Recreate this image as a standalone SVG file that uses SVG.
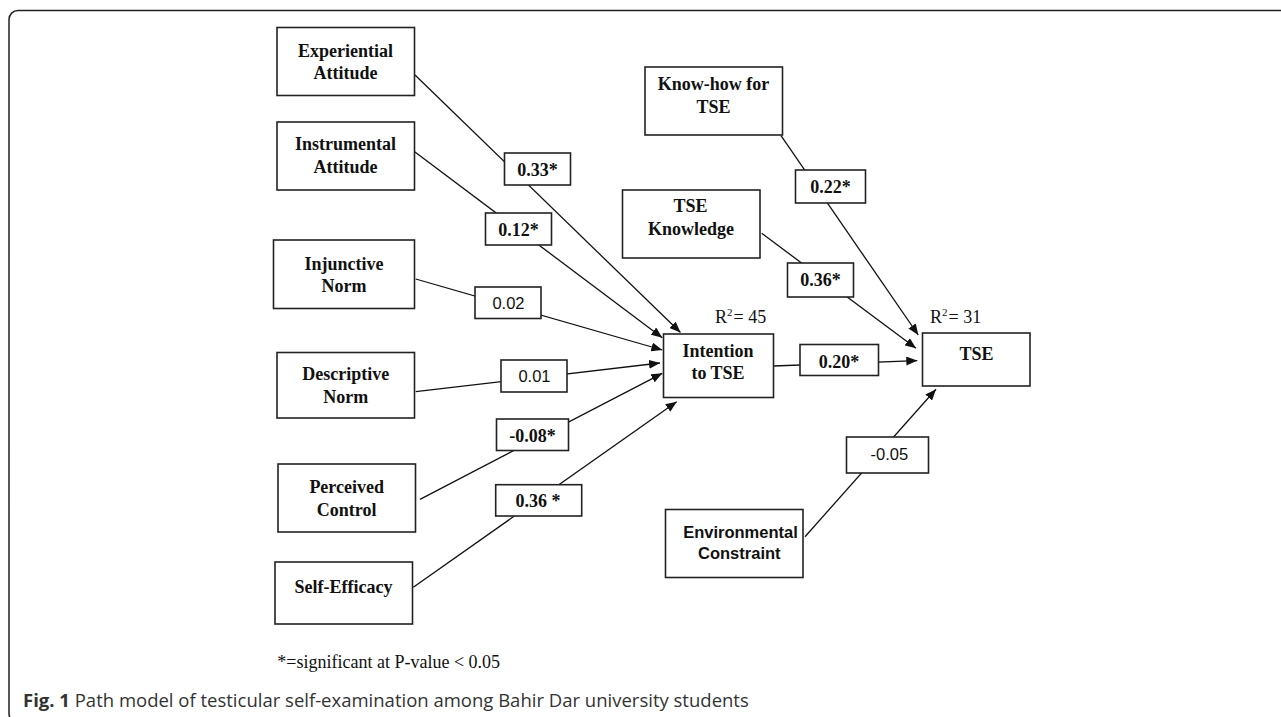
<svg xmlns="http://www.w3.org/2000/svg" width="1281" height="717" viewBox="0 0 1281 717">
<defs>
<style>
.box{fill:#fff;stroke:#222;stroke-width:1.6}
.lbl{fill:#fff;stroke:#222;stroke-width:1.6}
.edge{stroke:#111;stroke-width:1.3;fill:none}
.arr{marker-end:url(#ah)}
.tb{font-family:"Liberation Serif","Times New Roman",serif;font-weight:bold;font-size:18px;text-anchor:middle;fill:#111}
.ta{font-family:"Liberation Sans",Arial,sans-serif;font-size:16.5px;text-anchor:middle;fill:#111}
.tab{font-family:"Liberation Sans",Arial,sans-serif;font-weight:bold;font-size:16.5px;text-anchor:middle;fill:#111}
.tr{font-family:"Liberation Serif","Times New Roman",serif;font-size:18px;fill:#111}
.cap{font-family:"Open Sans","Liberation Sans",sans-serif;font-size:18.5px;fill:#333}
</style>
<marker id="ah" markerUnits="userSpaceOnUse" markerWidth="11" markerHeight="9" refX="11" refY="4.5" orient="auto">
<path d="M0,0 L11,4.5 L0,9 z" fill="#111"/>
</marker>
</defs>
<rect x="0" y="0" width="1281" height="717" fill="#fff"/>
<rect id="frame" x="9" y="10.5" width="1300" height="712" rx="9" fill="none" stroke="#222" stroke-width="1.5"/>

<g id="connectors">
<line class="edge arr" x1="415" y1="75" x2="680.5" y2="332.5"/>
<line class="edge arr" x1="412.3" y1="150" x2="662.3" y2="337.7"/>
<line class="edge arr" x1="415.7" y1="279" x2="662.3" y2="350"/>
<line class="edge arr" x1="415.7" y1="391.7" x2="660" y2="363"/>
<line class="edge arr" x1="420" y1="499.3" x2="662.3" y2="373.3"/>
<line class="edge arr" x1="413.3" y1="587.3" x2="676.7" y2="401.7"/>
<line class="edge arr" x1="781" y1="135.7" x2="918.3" y2="335"/>
<line class="edge arr" x1="761.7" y1="233.3" x2="916" y2="348.3"/>
<line class="edge arr" x1="773.3" y1="366" x2="917.3" y2="360.7"/>
<line class="edge arr" x1="805" y1="536.7" x2="936" y2="389.3"/>
</g>

<g id="edge-labels">
<g id="lbl-exp"><rect class="lbl" x="504.5" y="153" width="66" height="32"/><text class="tb" x="537.5" y="175.5">0.33*</text></g>
<g id="lbl-ins"><rect class="lbl" x="485.5" y="213" width="66" height="32"/><text class="tb" x="518.5" y="235.5">0.12*</text></g>
<g id="lbl-inj"><rect class="lbl" x="475" y="287" width="66" height="31.5"/><text class="ta" x="508.5" y="309">0.02</text></g>
<g id="lbl-des"><rect class="lbl" x="501" y="360" width="66" height="32"/><text class="ta" x="534.5" y="382.3">0.01</text></g>
<g id="lbl-per"><rect class="lbl" x="496.5" y="419" width="72" height="31.5"/><text class="tb" x="532.5" y="441.7">-0.08*</text></g>
<g id="lbl-self"><rect class="lbl" x="495.7" y="484.7" width="86" height="31.3"/><text class="tb" x="538" y="507.3">0.36 *</text></g>
<g id="lbl-know"><rect class="lbl" x="795.5" y="170" width="70" height="33"/><text class="tb" x="830.5" y="193.3">0.22*</text></g>
<g id="lbl-tsek"><rect class="lbl" x="787.5" y="263" width="66" height="34"/><text class="tb" x="820.5" y="286">0.36*</text></g>
<g id="lbl-int"><rect class="lbl" x="800" y="344.5" width="78.5" height="31"/><text class="tb" x="839" y="368.3">0.20*</text></g>
<g id="lbl-env"><rect class="lbl" x="846.5" y="437" width="82" height="36"/><text class="ta" x="889.3" y="459.5">-0.05</text></g>
</g>

<g id="node-experiential"><rect class="box" x="277" y="27.5" width="137.5" height="68"/><text class="tb" x="345.5" y="56.7">Experiential</text><text class="tb" x="345.5" y="79">Attitude</text></g>
<g id="node-instrumental"><rect class="box" x="277" y="122" width="137.5" height="68"/><text class="tb" x="345.5" y="150">Instrumental</text><text class="tb" x="345.5" y="172.7">Attitude</text></g>
<g id="node-injunctive"><rect class="box" x="273.5" y="240" width="141" height="68.5"/><text class="tb" x="344" y="269.8">Injunctive</text><text class="tb" x="344" y="292.3">Norm</text></g>
<g id="node-descriptive"><rect class="box" x="277" y="352.5" width="137.5" height="65.5"/><text class="tb" x="345.7" y="380">Descriptive</text><text class="tb" x="345.7" y="403.3">Norm</text></g>
<g id="node-perceived"><rect class="box" x="278" y="464" width="137.5" height="68"/><text class="tb" x="346.7" y="493.3">Perceived</text><text class="tb" x="346.7" y="515.7">Control</text></g>
<g id="node-selfefficacy"><rect class="box" x="275" y="562" width="137.5" height="62"/><text class="tb" x="343.5" y="593.3">Self-Efficacy</text></g>
<g id="node-knowhow"><rect class="box" x="645" y="67" width="137.5" height="68"/><text class="tb" x="713.5" y="90">Know-how for</text><text class="tb" x="713.5" y="112.7">TSE</text></g>
<g id="node-tseknowledge"><rect class="box" x="622.5" y="190" width="137.5" height="68"/><text class="tb" x="690.5" y="212.3">TSE</text><text class="tb" x="691" y="235">Knowledge</text></g>
<g id="node-intention"><rect class="box" x="663.5" y="334" width="110" height="63.5"/><text class="tb" x="718" y="356.7">Intention</text><text class="tb" x="718" y="379.3">to TSE</text><text class="tr" x="715" y="323.3">R<tspan dy="-7" font-size="11">2</tspan><tspan dy="7" dx="1">= 45</tspan></text></g>
<g id="node-tse"><rect class="box" x="922.5" y="333" width="107.5" height="53"/><text class="tb" x="976.5" y="360">TSE</text><text class="tr" x="930" y="323.3">R<tspan dy="-7" font-size="11">2</tspan><tspan dy="7" dx="1">= 31</tspan></text></g>
<g id="node-environmental"><rect class="box" x="665.5" y="509.5" width="137.5" height="68"/><text class="tab" x="740.5" y="538.3">Environmental</text><text class="tab" x="739.3" y="559.3">Constraint</text></g>

<text class="tr" x="277.3" y="668.3">*=significant at P-value &lt; 0.05</text>
<text class="cap" x="23" y="707"><tspan font-weight="bold">Fig. 1</tspan> Path model of testicular self-examination among Bahir Dar university students</text>
</svg>
